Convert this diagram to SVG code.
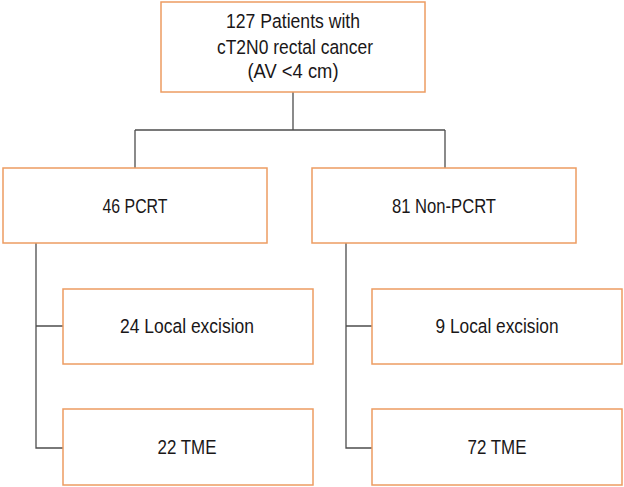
<svg xmlns="http://www.w3.org/2000/svg" width="624" height="487" viewBox="0 0 624 487">
<style>
.box{fill:#fff;stroke:#ED9C62;stroke-width:1.5}
.ln{fill:none;stroke:#4d4d4d;stroke-width:1.3}
text{font-family:"Liberation Sans Narrow","Liberation Sans",Arial,sans-serif;font-size:20.5px;fill:#1a1718;text-anchor:middle}
</style>
<rect width="624" height="487" fill="#fff"/>
<g id="connectors">
<path class="ln" d="M293,92V130M135,130H445M135,130V168M445,130V168"/>
<path class="ln" d="M36,243V448H63M36,326H63"/>
<path class="ln" d="M346,243V448H372M346,326H372"/>
</g>
<g id="root">
<rect class="box" x="161" y="2" width="264" height="90"/>
<text x="293" y="28" textLength="134" lengthAdjust="spacingAndGlyphs">127 Patients with</text>
<text x="295" y="54" textLength="156" lengthAdjust="spacingAndGlyphs">cT2N0 rectal cancer</text>
<text x="293" y="78" textLength="91" lengthAdjust="spacingAndGlyphs">(AV &lt;4 cm)</text>
</g>
<g id="pcrt">
<rect class="box" x="3" y="168" width="264" height="75"/>
<text x="135" y="213" textLength="65" lengthAdjust="spacingAndGlyphs">46 PCRT</text>
</g>
<g id="nonpcrt">
<rect class="box" x="312" y="168" width="264" height="75"/>
<text x="444" y="213" textLength="104" lengthAdjust="spacingAndGlyphs">81 Non-PCRT</text>
</g>
<g id="pcrt-le">
<rect class="box" x="63" y="289" width="250" height="75"/>
<text x="187" y="333" textLength="134" lengthAdjust="spacingAndGlyphs">24 Local excision</text>
</g>
<g id="pcrt-tme">
<rect class="box" x="63" y="409" width="250" height="76"/>
<text x="187" y="454" textLength="59" lengthAdjust="spacingAndGlyphs">22 TME</text>
</g>
<g id="non-le">
<rect class="box" x="372" y="289" width="250" height="75"/>
<text x="497" y="333" textLength="123" lengthAdjust="spacingAndGlyphs">9 Local excision</text>
</g>
<g id="non-tme">
<rect class="box" x="372" y="409" width="250" height="76"/>
<text x="497" y="454" textLength="59" lengthAdjust="spacingAndGlyphs">72 TME</text>
</g>
</svg>
